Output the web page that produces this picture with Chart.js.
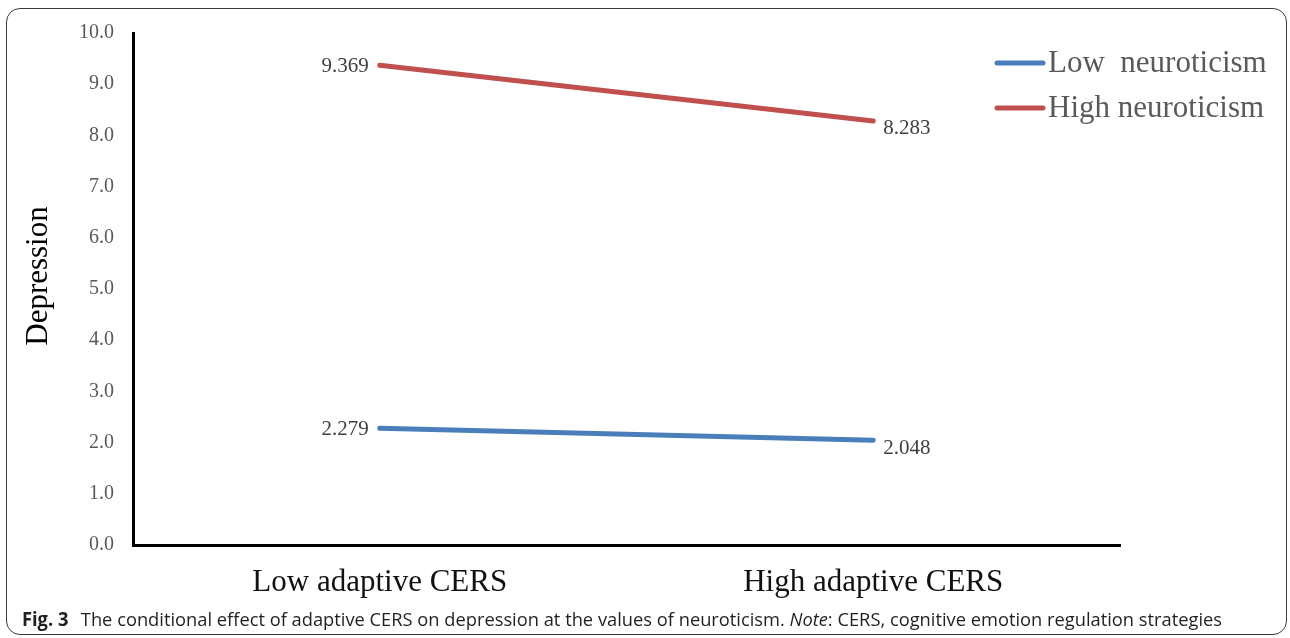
<!DOCTYPE html>
<html>
<head>
<meta charset="utf-8">
<title>Fig. 3</title>
<script src="https://cdn.jsdelivr.net/npm/chart.js@4.4.1/dist/chart.umd.min.js"></script>
<style>
    html, body { margin: 0; padding: 0; background: #fff; }
    body { width: 1290px; height: 638px; position: relative; overflow: hidden; }
    #marco {
        position: absolute; left: 6px; top: 8px; width: 1281px; height: 627px;
        border: 1px solid #3a3a3a; border-radius: 14px; box-sizing: border-box;
    }
    #lienzo { position: absolute; left: 0; top: 0; }
    #pie {
        position: absolute; left: 22px; top: 606px; white-space: nowrap;
        font-family: "Open Sans", "Noto Sans", sans-serif; font-size: 19px; color: #231f20;
        transform-origin: left top;
    }
    #pie b { font-weight: 700; margin-right: 8px; }
</style>
</head>
<body>
<div id="marco"></div>
<canvas id="lienzo" width="1290" height="638" style="width:1290px;height:638px"></canvas>
<div id="pie"><b>Fig. 3</b> The conditional effect of adaptive CERS on depression at the values of neuroticism. <i>Note</i>: CERS, cognitive emotion regulation strategies</div>
<script>
// Datos del gráfico
var categorias = ["Low adaptive CERS", "High adaptive CERS"];
var nombresSeries = ["Low  neuroticism", "High neuroticism"];
var bajoNeuroticismo = [2.279, 2.048];
var altoNeuroticismo = [9.369, 8.283];
var ticksY = [0, 1, 2, 3, 4, 5, 6, 7, 8, 9, 10];
var tituloY = "Depression";

var serif = "'Liberation Serif', 'DejaVu Serif', serif";

// Etiquetas de valor junto a cada punto
var etiquetasValor = {
    id: "etiquetasValor",
    afterDatasetsDraw: function (chart) {
        var ctx = chart.ctx;
        ctx.save();
        ctx.font = "21px " + serif;
        ctx.fillStyle = "#404040";
        ctx.textBaseline = "middle";
        chart.data.datasets.forEach(function (ds, i) {
            var meta = chart.getDatasetMeta(i);
            meta.data.forEach(function (pt, j) {
                var texto = ds.data[j].toFixed(3);
                if (j === 0) {
                    ctx.textAlign = "right";
                    ctx.fillText(texto, pt.x - 11, pt.y + 1);
                } else {
                    ctx.textAlign = "left";
                    ctx.fillText(texto, pt.x + 10, pt.y + 8);
                }
            });
        });
        ctx.restore();
    }
};

// Leyenda y título del eje Y dibujados a mano
var leyenda = {
    id: "leyenda",
    afterDraw: function (chart) {
        var ctx = chart.ctx;
        ctx.save();
        ctx.font = "31px " + serif;
        ctx.textBaseline = "middle";
        ctx.textAlign = "left";
        chart.data.datasets.forEach(function (ds, i) {
            var y = 63 + i * 45;
            ctx.strokeStyle = ds.borderColor;
            ctx.lineWidth = 5;
            ctx.lineCap = "round";
            ctx.beginPath();
            ctx.moveTo(997, y);
            ctx.lineTo(1043, y);
            ctx.stroke();
            ctx.fillStyle = "#595959";
            ctx.fillText(ds.label, 1048, y + 1);
        });

        // Título del eje Y, algo por encima del centro como en el original
        ctx.translate(39, 276);
        ctx.rotate(-Math.PI / 2);
        ctx.textAlign = "center";
        ctx.fillStyle = "#000";
        ctx.fillText(tituloY, 0, 0);
        ctx.restore();
    }
};

var ctx = document.getElementById("lienzo").getContext("2d");
var myChart = new Chart(ctx, {
    type: "line",
    data: {
        labels: categorias,
        datasets: [
            {
                label: nombresSeries[0],
                data: bajoNeuroticismo,
                borderColor: "#4a7ebb",
                borderWidth: 5,
                borderCapStyle: "round",
                pointRadius: 0,
                fill: false
            },
            {
                label: nombresSeries[1],
                data: altoNeuroticismo,
                borderColor: "#c0504d",
                borderWidth: 5,
                borderCapStyle: "round",
                pointRadius: 0,
                fill: false
            }
        ]
    },
    options: {
        responsive: false,
        animation: false,
        layout: { padding: { top: 33, right: 170, left: 0, bottom: 0 } },
        plugins: {
            legend: { display: false },
            tooltip: { enabled: false }
        },
        scales: {
            x: {
                offset: true,
                grid: { display: false, drawTicks: false },
                border: { display: true, color: "#000", width: 3 },
                ticks: {
                    padding: 19,
                    color: "#111",
                    font: { family: serif, size: 31 }
                },
                afterFit: function (scale) { scale.height = 93; }
            },
            y: {
                min: 0,
                max: 10,
                afterBuildTicks: function (scale) {
                    scale.ticks = ticksY.map(function (v) { return { value: v }; });
                },
                grid: { display: false, drawTicks: false },
                border: { display: true, color: "#000", width: 3 },
                ticks: {
                    padding: 19,
                    color: "#595959",
                    font: { family: serif, size: 20 },
                    callback: function (v) { return Number(v).toFixed(1); }
                },
                afterFit: function (scale) { scale.width = 133; }
            }
        }
    },
    plugins: [etiquetasValor, leyenda]
});

// Ajustar el pie de figura al ancho del original
var pie = document.getElementById("pie");
var ancho = pie.getBoundingClientRect().width;
pie.style.transform = "scaleX(" + (1200 / ancho) + ")";
</script>
</body>
</html>
